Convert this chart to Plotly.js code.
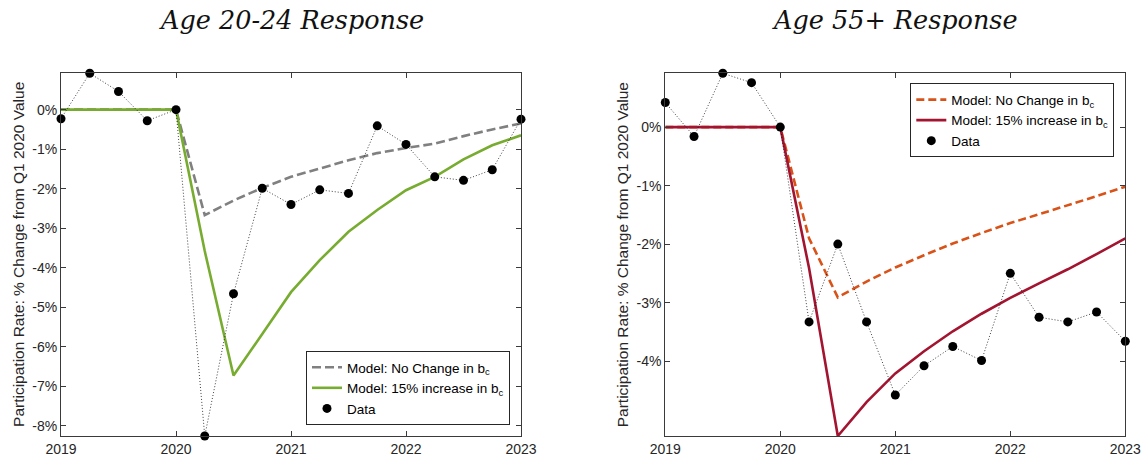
<!DOCTYPE html>
<html>
<head>
<meta charset="utf-8">
<script src="https://cdn.plot.ly/plotly-3.0.1.min.js"></script>
<style>
  html, body { margin: 0; padding: 0; background: #fff; }
  #chart { width: 1144px; height: 461px; }
</style>
</head>
<body>
<div id="chart"></div>
<script>
// Quarterly dates, 2019Q1 .. 2023Q1
const quarters = [2019, 2019.25, 2019.5, 2019.75, 2020, 2020.25, 2020.5, 2020.75,
                  2021, 2021.25, 2021.5, 2021.75, 2022, 2022.25, 2022.5, 2022.75, 2023];
const yearTicks = [2019, 2020, 2021, 2022, 2023];

// Age 20-24: participation rate, % change from 2020Q1
const young_data      = [-0.23, 0.92, 0.46, -0.28, 0, -8.26, -4.66, -1.99,
                         -2.40, -2.03, -2.12, -0.41, -0.88, -1.70, -1.79, -1.52, -0.24];
const young_noChange  = [0, 0, 0, 0, 0, -2.67, -2.30, -1.98,
                         -1.70, -1.49, -1.28, -1.10, -0.97, -0.86, -0.67, -0.50, -0.35];
const young_increase  = [0, 0, 0, 0, 0, -3.58, -6.73, -5.68,
                         -4.62, -3.81, -3.09, -2.54, -2.04, -1.70, -1.26, -0.90, -0.65];
const young_ticks     = [0, -1, -2, -3, -4, -5, -6, -7, -8];

// Age 55+: participation rate, % change from 2020Q1
const old_data        = [0.42, -0.16, 0.92, 0.76, 0, -3.33, -2.00, -3.33,
                         -4.58, -4.08, -3.75, -3.99, -2.50, -3.25, -3.33, -3.16, -3.66];
const old_noChange    = [0, 0, 0, 0, 0, -1.90, -2.91, -2.64,
                         -2.40, -2.19, -1.99, -1.81, -1.64, -1.49, -1.34, -1.18, -1.02];
const old_increase    = [0, 0, 0, 0, 0, -2.41, -5.28, -4.70,
                         -4.21, -3.83, -3.49, -3.19, -2.92, -2.67, -2.43, -2.17, -1.90];
const old_ticks       = [0, -1, -2, -3, -4];

const legendNoChange = 'Model: No Change in b<sub>c</sub>';
const legendIncrease = 'Model: 15% increase in b<sub>c</sub>';
const legendData = 'Data';

const W = 1144, H = 461;
const AXIS_COLOR = '#3a3a3a';
const TEXT_COLOR = '#262626';
const SANS = 'Liberation Sans, Arial, sans-serif';

function pctLabels(vals) { return vals.map(v => (v === 0 ? '0' : '-' + Math.abs(v)) + '%'); }
function tightRange(arrs) {
  const all = [].concat(...arrs);
  return [Math.min(...all), Math.max(...all)];
}

// Observed series: a thin dotted connector plus filled dots (only the dots go in the legend)
function dataTraces(y, xa, ya, lg) {
  return [{
    x: quarters, y: y, xaxis: xa, yaxis: ya, legend: lg,
    type: 'scatter', mode: 'lines', showlegend: false,
    line: { color: '#111', width: 0.8, dash: '1px,2px' },
    hoverinfo: 'skip'
  }, {
    x: quarters, y: y, xaxis: xa, yaxis: ya, legend: lg,
    type: 'scatter', mode: 'markers', name: legendData,
    marker: { color: '#000', size: 9 },
    hoverinfo: 'skip', cliponaxis: false
  }];
}
function modelTrace(y, xa, ya, lg, name, color, dash) {
  return {
    x: quarters, y: y, xaxis: xa, yaxis: ya, legend: lg,
    type: 'scatter', mode: 'lines', name: name,
    line: { color: color, width: 2.6, dash: dash },
    hoverinfo: 'skip'
  };
}

const traces = [
  modelTrace(young_noChange, 'x', 'y', 'legend', legendNoChange, '#808080', '9px,4px'),
  modelTrace(young_increase, 'x', 'y', 'legend', legendIncrease, '#77AC30', 'solid'),
  ...dataTraces(young_data, 'x', 'y', 'legend'),
  modelTrace(old_noChange, 'x2', 'y2', 'legend2', legendNoChange, '#D95319', '8px,4px'),
  modelTrace(old_increase, 'x2', 'y2', 'legend2', legendIncrease, '#A2142F', 'solid'),
  ...dataTraces(old_data, 'x2', 'y2', 'legend2')
];

// Plot boxes in pixels
const boxL = [61, 521], boxR = [665.3, 1125.3], boxY = [73.3, 436];
const ydom = [(H - boxY[1]) / H, (H - boxY[0]) / H];

function xAxis(dom, anchor) {
  return {
    domain: [dom[0] / W, dom[1] / W], anchor: anchor,
    range: [quarters[0], quarters[quarters.length - 1]],
    tickvals: yearTicks, ticktext: yearTicks.map(String),
    ticks: 'inside', ticklen: 5, tickcolor: AXIS_COLOR, tickwidth: 1,
    showline: true, linecolor: AXIS_COLOR, linewidth: 1, mirror: 'ticks',
    showgrid: false, zeroline: false,
    tickfont: { family: SANS, size: 14, color: TEXT_COLOR }
  };
}
function yAxis(anchor, ticks, range) {
  return {
    domain: ydom, anchor: anchor, range: range,
    tickvals: ticks, ticktext: pctLabels(ticks),
    ticks: 'inside', ticklen: 5, tickcolor: AXIS_COLOR, tickwidth: 1,
    showline: true, linecolor: AXIS_COLOR, linewidth: 1, mirror: 'ticks',
    showgrid: false, zeroline: false,
    tickfont: { family: SANS, size: 14, color: TEXT_COLOR }
  };
}

const legendStyle = {
  bgcolor: '#fff', bordercolor: '#262626', borderwidth: 1,
  font: { family: SANS, size: 13.5, color: '#000' },
  xref: 'paper', yref: 'paper', tracegroupgap: 0
};

const yTitle = 'Participation Rate: % Change from Q1 2020 Value';
const titleFont = { family: 'DejaVu Serif, serif', size: 25.5, color: '#111', style: 'italic' };
const axTitleFont = { family: SANS, size: 15.5, color: TEXT_COLOR };

const layout = {
  width: W, height: H,
  margin: { l: 0, r: 0, t: 0, b: 0 },
  paper_bgcolor: '#fff', plot_bgcolor: '#fff',
  showlegend: true,
  xaxis: xAxis(boxL, 'y'),
  yaxis: yAxis('x', young_ticks, tightRange([young_data, young_noChange, young_increase])),
  xaxis2: xAxis(boxR, 'y2'),
  yaxis2: yAxis('x2', old_ticks, tightRange([old_data, old_noChange, old_increase])),
  legend: Object.assign({}, legendStyle, { x: 510 / W, xanchor: 'right', y: (H - 425) / H, yanchor: 'bottom' }),
  legend2: Object.assign({}, legendStyle, { x: 1114.3 / W, xanchor: 'right', y: (H - 83.3) / H, yanchor: 'top' }),
  annotations: [
    { text: 'Age 20-24 Response', xref: 'paper', yref: 'paper', x: (boxL[0] + boxL[1]) / 2 / W, y: 1 - 20 / H,
      xanchor: 'center', yanchor: 'middle', showarrow: false, font: titleFont },
    { text: 'Age 55+ Response', xref: 'paper', yref: 'paper', x: (boxR[0] + boxR[1]) / 2 / W, y: 1 - 20 / H,
      xanchor: 'center', yanchor: 'middle', showarrow: false, font: titleFont },
    { text: yTitle, xref: 'paper', yref: 'paper', x: 18.3 / W, y: 1 - (boxY[0] + boxY[1]) / 2 / H,
      xanchor: 'center', yanchor: 'middle', textangle: -90, showarrow: false, font: axTitleFont },
    { text: yTitle, xref: 'paper', yref: 'paper', x: 622.6 / W, y: 1 - (boxY[0] + boxY[1]) / 2 / H,
      xanchor: 'center', yanchor: 'middle', textangle: -90, showarrow: false, font: axTitleFont }
  ]
};

Plotly.newPlot('chart', traces, layout, { displayModeBar: false, staticPlot: true });
</script>
</body>
</html>
